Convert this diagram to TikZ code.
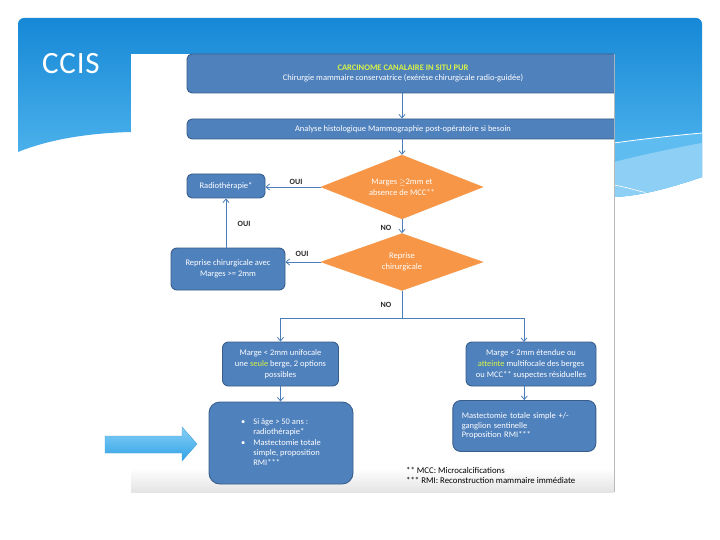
\documentclass[tikz,border=0pt]{standalone}
\usepackage{fontspec}
\setmainfont{Carlito}
\usetikzlibrary{arrows.meta,shapes.geometric}
\definecolor{boxfill}{RGB}{79,129,189}
\definecolor{boxline}{RGB}{56,93,138}
\definecolor{dia}{RGB}{247,150,70}
\definecolor{arr}{RGB}{74,126,187}
\definecolor{hl}{RGB}{215,242,70}
\definecolor{hdrtop}{RGB}{22,136,214}
\definecolor{hdrbot}{RGB}{92,190,242}
\definecolor{band}{RGB}{95,188,240}
\definecolor{bandlight}{RGB}{142,208,245}
\definecolor{bigtop}{RGB}{135,208,246}
\definecolor{bigbot}{RGB}{48,162,230}
\definecolor{bigline}{RGB}{70,160,215}
\definecolor{lblcol}{RGB}{40,40,40}
\begin{document}
\begin{tikzpicture}[x=1pt,y=-1pt,
  box/.style={draw=boxline, line width=0.9pt, fill=boxfill, rounded corners=5pt,
    text=white, font=\fontsize{8.5}{10.8}\selectfont, align=center, inner sep=0pt},
  dec/.style={diamond, fill=dia, draw=dia, text=white, aspect=2.5,
    font=\fontsize{8.5}{10.8}\selectfont, align=center, inner sep=0pt},
  conn/.style={draw=arr, line width=0.8pt, -{Straight Barb[length=3.5pt,width=6pt]}},
  plain/.style={draw=arr, line width=0.8pt},
  lbl/.style={text=lblcol, font=\fontsize{8}{9}\bfseries\selectfont, inner sep=0pt}
]
\useasboundingbox (0,0) rectangle (720,540);
% header
\shade[top color=hdrtop, bottom color=hdrbot]
  (18,152) -- (18,24) arc(180:270:6) -- (696,18) arc(-90:0:6) -- (702,177)
  .. controls (670,188) and (640,196) .. (614,197) -- (131,132)
  .. controls (90,133) and (50,139) .. (18,152) -- cycle;
\fill[band] (614,143) .. controls (650,138) and (680,135) .. (702,133)
  -- (702,177) .. controls (670,188) and (640,196) .. (614,197) -- cycle;
\fill[bandlight] (614,162) .. controls (650,153) and (680,147) .. (702,143)
  -- (702,177) .. controls (670,188) and (640,196) .. (614,197) -- cycle;
\draw[white, line width=0.8pt] (614,143) .. controls (650,138) and (680,135) .. (702,133);
\draw[white, line width=0.6pt] (614,185) .. controls (625,187) and (635,190) .. (645,192.5);
\node[anchor=base west, text=white, font=\fontsize{31}{32}\selectfont\addfontfeature{LetterSpace=2.5}, inner sep=0pt] (ccis) at (42,73.5) {CCIS};
% flowchart sheet
\fill[white] (131,54) rectangle (614,492);
\shade[top color=white, bottom color={rgb,255:red,228;green,228;blue,228}] (131,468) rectangle (614,492);
\draw[gray!55, line width=0.8pt] (614.4,54) -- (614.4,492);
% big arrow
\shade[top color=bigtop, bottom color=bigbot, draw=bigline, line width=0.4pt]
  (105,436) -- (182,436) -- (182,427) -- (197,444) -- (182,461) -- (182,453) -- (105,453) -- cycle;
% boxes
\begin{scope}
\clip (131,50) rectangle (614,145);
\node[box, minimum width=432, minimum height=39] (top) at (403,73.5)
  {{\bfseries\color{hl}CARCINOME CANALAIRE IN SITU PUR}\\Chirurgie mammaire conservatrice (exérèse chirurgicale radio-guidée)};
\node[box, minimum width=432, minimum height=20] (hist) at (403,129)
  {Analyse histologique Mammographie post-opératoire si besoin};
\end{scope}
\node[dec, minimum width=162, minimum height=64] (d1) at (402,187) {Marges $\geq$2mm et\\absence de MCC**};
\node[dec, minimum width=162, minimum height=57] (d2) at (402,262) {Reprise\\chirurgicale};
\node[box, minimum width=78, minimum height=24] (radio) at (226,186) {Radiothérapie*};
\node[box, minimum width=114, minimum height=42, rounded corners=6pt] (rep) at (228,269) {Reprise chirurgicale avec\\Marges >= 2mm};
\node[box, minimum width=116, minimum height=44, rounded corners=6pt] (ml) at (280.5,364)
  {Marge < 2mm unifocale\\une {\color{hl}seule} berge, 2 options\\possibles};
\node[box, minimum width=130, minimum height=44, rounded corners=6pt] (mr) at (531,364)
  {Marge < 2mm étendue ou\\{\color{hl}atteinte} multifocale des berges\\ou MCC** suspectes résiduelles};
\node[box, minimum width=144, minimum height=82, rounded corners=11pt, font=\fontsize{8.5}{10.3}\selectfont] (bl) at (281,443)
  {\begin{tabular}{@{}l@{\hspace{8pt}}l@{}}
   • & Si âge > 50 ans :\\
     & radiothérapie*\\
   • & Mastectomie totale\\
     & simple, proposition\\
     & RMI***
   \end{tabular}};
\node[box, minimum width=143, minimum height=51, rounded corners=8pt, text width=125pt, align=left, font=\fontsize{8.5}{9.5}\selectfont] (br) at (524.3,426)
  {Mastectomie totale simple +/-\\ganglion sentinelle\\Proposition RMI***};
\node[anchor=west, align=left, inner sep=0pt, font=\fontsize{8.8}{9.8}\selectfont] (fn) at (406,475.5)
  {** MCC: Microcalcifications\\*** RMI: Reconstruction mammaire immédiate};
% connectors
\draw[conn] (top.south -| 402,0) -- (hist.north -| 402,0);
\draw[conn] (hist.south -| d1.north) -- (d1.north);
\draw[conn] (d1.west) -- (d1.west -| radio.east);
\draw[conn] (d1.south) -- (d2.north);
\draw[conn] (d2.west) -- (d2.west -| rep.east);
\draw[conn] (radio.south |- rep.north) -- (radio.south);
\coordinate (j) at (402,318);
\coordinate (mrin) at (524,342);
\draw[plain] (d2.south) -- (j);
\draw[conn] (j) -| (ml.north);
\draw[conn] (j) -| (mrin);
\draw[conn] (ml.south) -- (ml.south |- bl.north);
\draw[conn] (br.north |- mr.south) -- (br.north);
% labels
\node[lbl] (oui1) at (296,182) {OUI};
\node[lbl] (oui2) at (302,254) {OUI};
\node[lbl] (oui3) at (244,224) {OUI};
\node[lbl] (no1) at (386,228) {NO};
\node[lbl] (no2) at (386,305) {NO};
\end{tikzpicture}
\end{document}
